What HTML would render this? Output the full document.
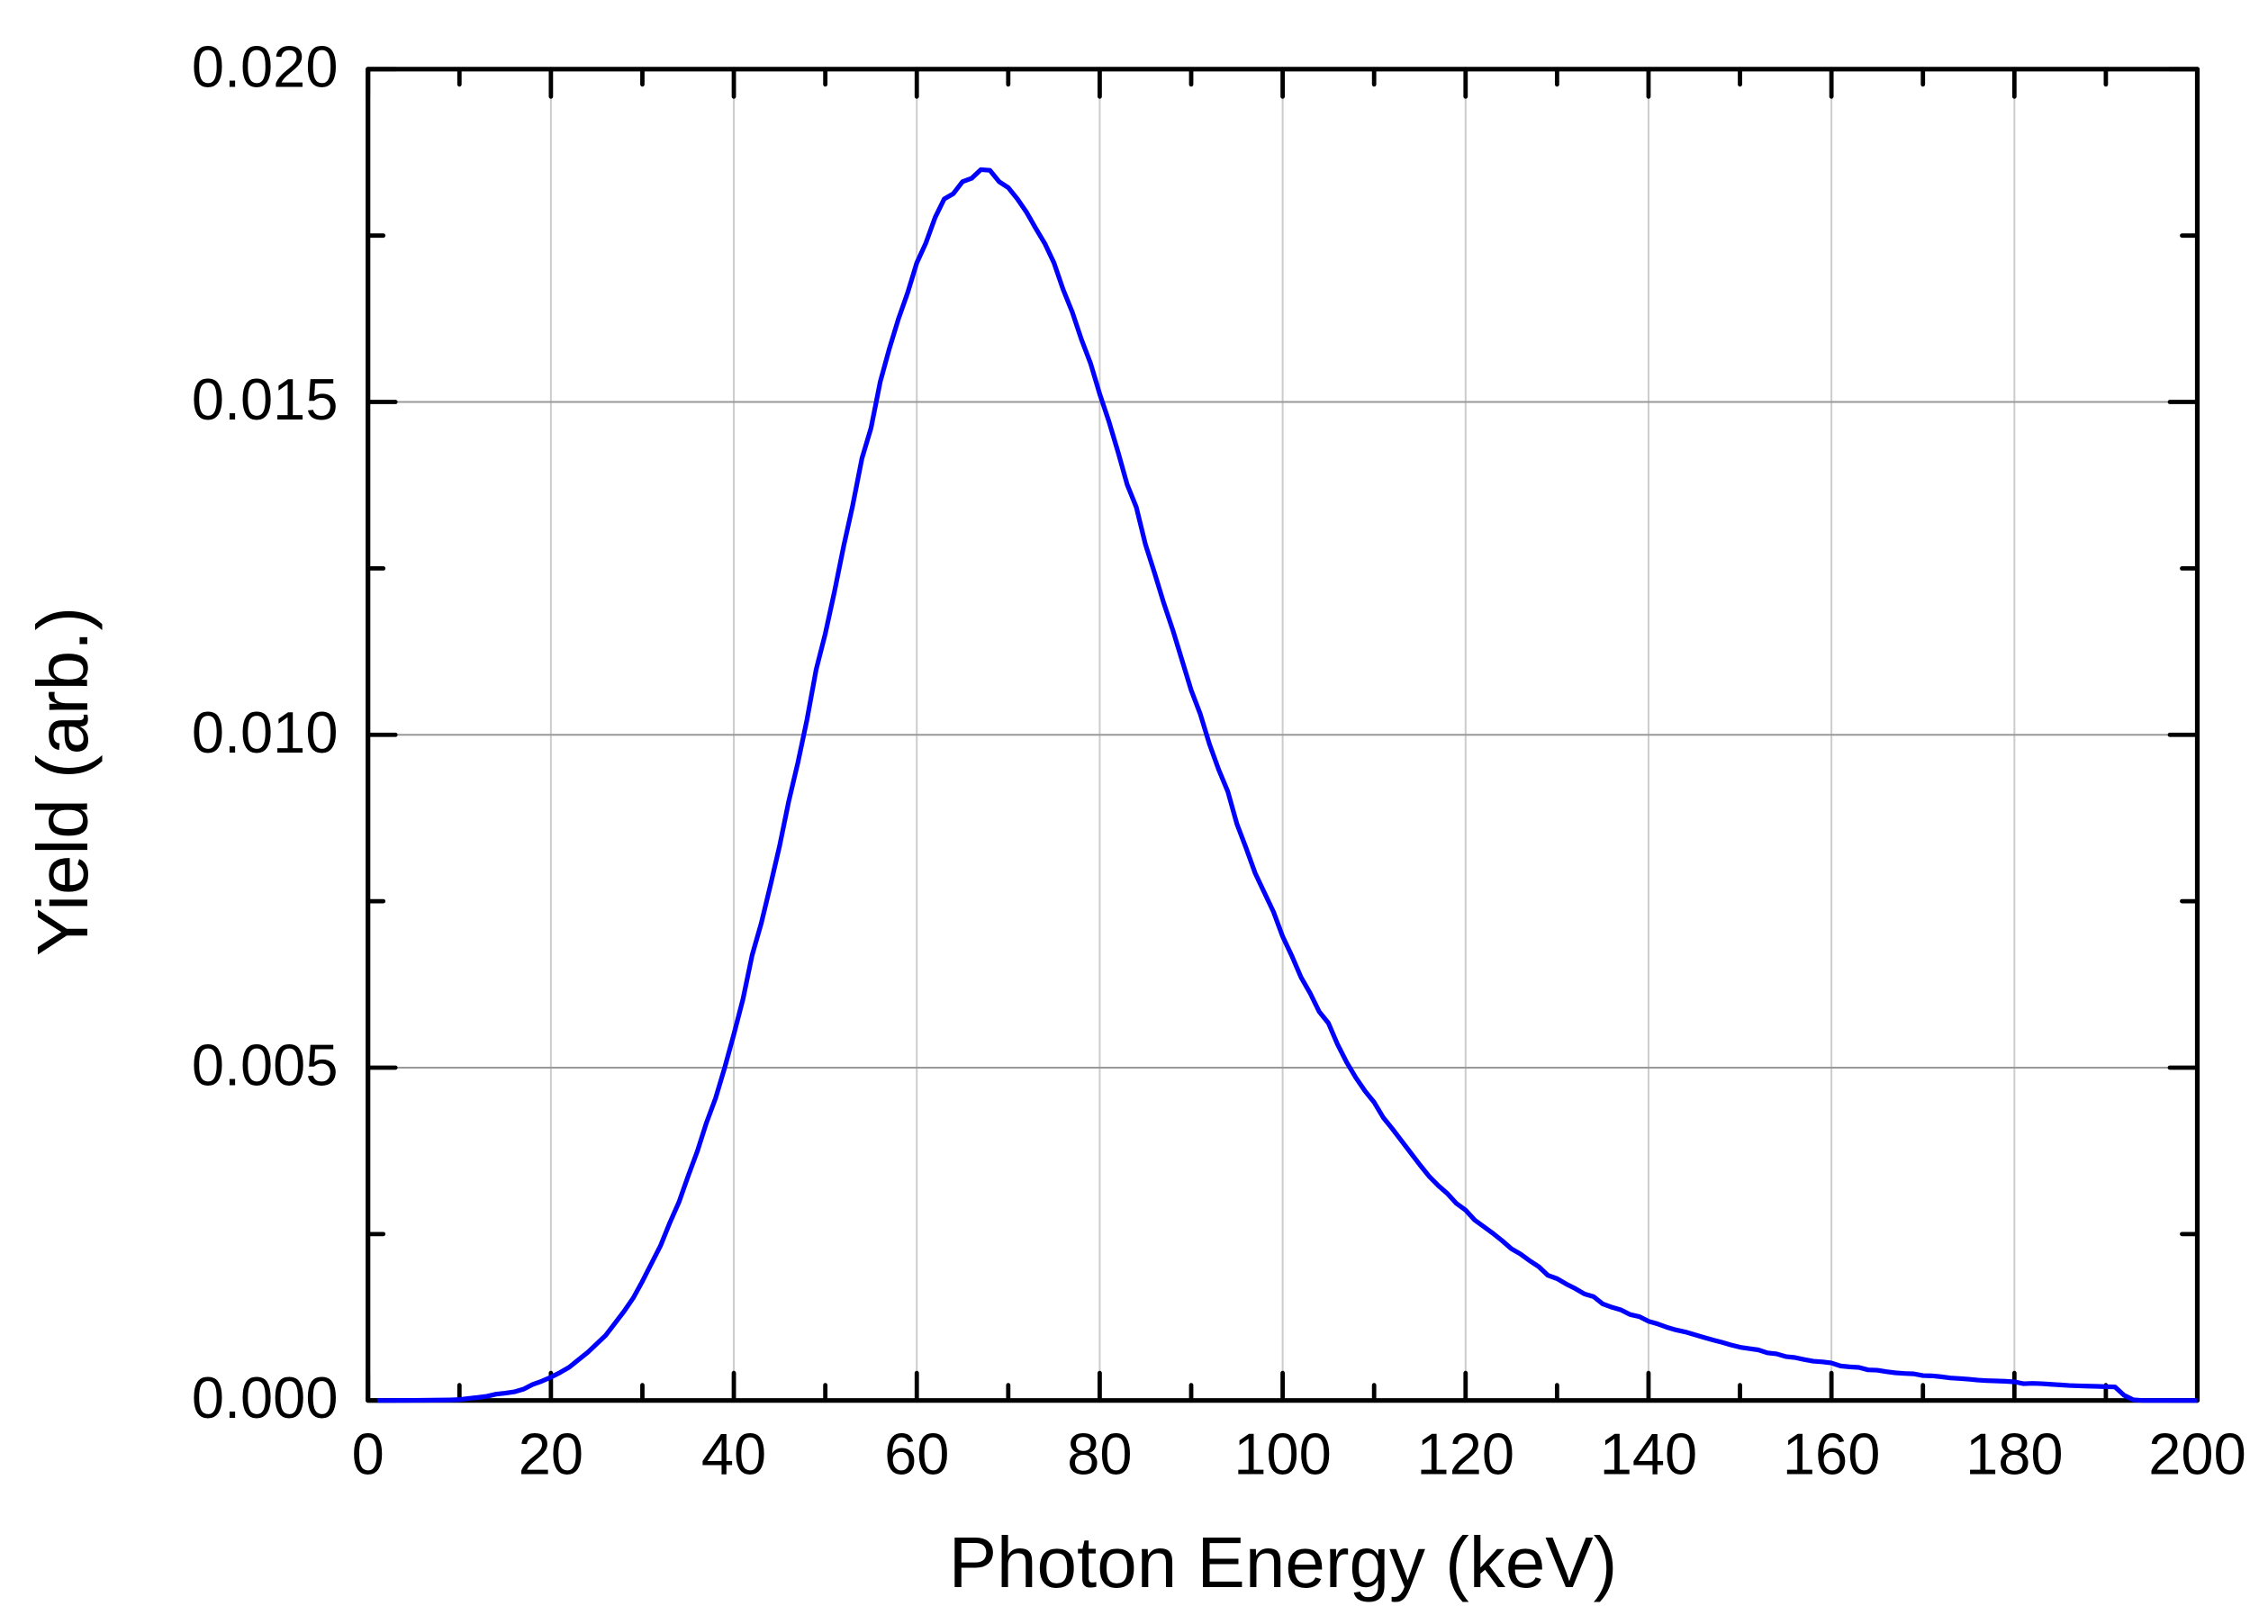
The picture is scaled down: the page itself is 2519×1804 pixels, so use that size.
<!DOCTYPE html>
<html lang="en">
<head>
<meta charset="utf-8">
<title>Photon Energy Spectrum</title>
<style>
  html, body { margin: 0; padding: 0; background: #fff; }
  svg { display: block; }
  text { font-family: "Liberation Sans", Arial, sans-serif; fill: #000; }
</style>
</head>
<body>
<svg id="chart" xmlns="http://www.w3.org/2000/svg" width="2519" height="1804" viewBox="0 0 2519 1804">
  <rect x="0" y="0" width="2519" height="1804" fill="#ffffff"></rect>
  <g id="grid"></g>
  <g id="ticks"></g>
  <rect id="frame" fill="none" stroke="#000" stroke-width="5.2" stroke-linejoin="round"></rect>
  <g id="tick-labels"></g>
  <polyline id="series" fill="none" stroke="#0000ff" stroke-width="5.2" stroke-linejoin="round"></polyline>
  <text x="1425" y="1763" font-size="80" text-anchor="middle">Photon Energy (keV)</text>
  <text transform="translate(97 868) rotate(-90)" font-size="80" text-anchor="middle">Yield (arb.)</text>
</svg>
<script>
// Chart data
const energies = [
  1,2,3,4,5,6,7,8,9,10,
  11,12,13,14,15,16,17,18,19,20,
  21,22,23,24,25,26,27,28,29,30,
  31,32,33,34,35,36,37,38,39,40,
  41,42,43,44,45,46,47,48,49,50,
  51,52,53,54,55,56,57,58,59,60,
  61,62,63,64,65,66,67,68,69,70,
  71,72,73,74,75,76,77,78,79,80,
  81,82,83,84,85,86,87,88,89,90,
  91,92,93,94,95,96,97,98,99,100,
  101,102,103,104,105,106,107,108,109,110,
  111,112,113,114,115,116,117,118,119,120,
  121,122,123,124,125,126,127,128,129,130,
  131,132,133,134,135,136,137,138,139,140,
  141,142,143,144,145,146,147,148,149,150,
  151,152,153,154,155,156,157,158,159,160,
  161,162,163,164,165,166,167,168,169,170,
  171,172,173,174,175,176,177,178,179,180,
  181,182,183,184,185,186,187,188,189,190,
  191,192,193,194,195,196,197,198,199,200
];
// Yield in units of 0.001 (arb.)
const yieldMilli = [
  0,0,0,.001,.002,.003,.004,.006,.008,.013,
  .03,.045,.063,.095,.11,.13,.17,.24,.29,.35,
  .42,.5,.61,.72,.85,.98,1.16,1.34,1.54,1.79,
  2.06,2.33,2.67,2.98,3.37,3.74,4.17,4.54,5,5.5,
  6.03,6.69,7.17,7.74,8.33,9,9.58,10.23,10.98,11.52,
  12.15,12.83,13.45,14.15,14.61,15.3,15.8,16.25,16.64,17.09,
  17.39,17.77,18.05,18.13,18.31,18.36,18.49,18.48,18.31,18.22,
  18.05,17.85,17.61,17.38,17.09,16.69,16.35,15.94,15.58,15.12,
  14.71,14.25,13.76,13.42,12.86,12.43,11.98,11.57,11.12,10.67,
  10.31,9.86,9.48,9.15,8.66,8.3,7.92,7.63,7.34,6.97,
  6.68,6.36,6.12,5.84,5.67,5.35,5.08,4.85,4.65,4.48,
  4.25,4.08,3.9,3.72,3.54,3.37,3.23,3.11,2.96,2.86,
  2.71,2.61,2.51,2.4,2.28,2.2,2.1,2.01,1.88,1.83,
  1.75,1.68,1.6,1.56,1.45,1.4,1.36,1.29,1.26,1.19,
  1.15,1.1,1.06,1.03,.99,.95,.91,.875,.835,.8,
  .78,.76,.715,.7,.66,.645,.615,.59,.58,.563,
  .518,.505,.496,.46,.455,.433,.415,.406,.4,.374,
  .37,.356,.338,.33,.32,.306,.298,.293,.288,.28,
  .252,.257,.252,.243,.234,.225,.22,.216,.212,.207,
  .203,.077,.01,0,0,0,0,0,0,0
];
const xMajorTicks = [0,20,40,60,80,100,120,140,160,180,200];
const xMinorTicks = [10,30,50,70,90,110,130,150,170,190];
const xGridValues = [20,40,60,80,100,120,140,160,180];
const yMajorTicks = [0,5,10,15,20];
const yMinorTicks = [2.5,7.5,12.5,17.5];
const yGridValues = [5,10,15];
const yTickLabels = ["0.000","0.005","0.010","0.015","0.020"];

const NS = 'http://www.w3.org/2000/svg';
const PLOT_LEFT = 408.7, PLOT_RIGHT = 2440.5, PLOT_TOP = 76.8, PLOT_BOTTOM = 1555.7;
const X_MAX = 200, Y_MAX = 20;
const MAJOR_LEN = 30.5, MINOR_LEN = 17;
function xScale(v) { return PLOT_LEFT + (PLOT_RIGHT - PLOT_LEFT) * v / X_MAX; }
function yScale(v) { return PLOT_BOTTOM - (PLOT_BOTTOM - PLOT_TOP) * v / Y_MAX; }
function makeLine(parent, x1, y1, x2, y2, stroke, width, cap) {
  const el = document.createElementNS(NS, 'line');
  el.setAttribute('x1', x1);
  el.setAttribute('y1', y1);
  el.setAttribute('x2', x2);
  el.setAttribute('y2', y2);
  el.setAttribute('stroke', stroke);
  el.setAttribute('stroke-width', width);
  el.setAttribute('stroke-linecap', cap);
  parent.appendChild(el);
  return el;
}
function makeText(parent, x, y, anchor, content) {
  const el = document.createElementNS(NS, 'text');
  el.setAttribute('x', x);
  el.setAttribute('y', y);
  el.setAttribute('font-size', '65');
  el.setAttribute('text-anchor', anchor);
  el.textContent = content;
  parent.appendChild(el);
  return el;
}

const gridG = document.getElementById('grid');
const ticksG = document.getElementById('ticks');
const labelsG = document.getElementById('tick-labels');

xGridValues.forEach(function (v) {
  const el = makeLine(gridG, xScale(v), PLOT_TOP, xScale(v), PLOT_BOTTOM, '#cccccc', 2, 'butt');
  
  
});
yGridValues.forEach(function (v) {
  const el = makeLine(gridG, PLOT_LEFT, yScale(v), PLOT_RIGHT, yScale(v), '#999999', 2, 'butt');
  
  
});

function drawXTicks(values, len) {
  values.forEach(function (v) {
    const x = xScale(v);
    const bottom = makeLine(ticksG, x, PLOT_BOTTOM, x, PLOT_BOTTOM - len, '#000', 4.8, 'round');
    
    
    const top = makeLine(ticksG, x, PLOT_TOP, x, PLOT_TOP + len, '#000', 4.8, 'round');
    
    
  });
}
function drawYTicks(values, len) {
  values.forEach(function (v) {
    const y = yScale(v);
    const left = makeLine(ticksG, PLOT_LEFT, y, PLOT_LEFT + len, y, '#000', 4.8, 'round');
    
    
    const right = makeLine(ticksG, PLOT_RIGHT, y, PLOT_RIGHT - len, y, '#000', 4.8, 'round');
    
    
  });
}
drawXTicks(xMajorTicks, MAJOR_LEN);
drawXTicks(xMinorTicks, MINOR_LEN);
drawYTicks(yMajorTicks, MAJOR_LEN);
drawYTicks(yMinorTicks, MINOR_LEN);

const frame = document.getElementById('frame');
frame.setAttribute('x', PLOT_LEFT);
frame.setAttribute('y', PLOT_TOP);
frame.setAttribute('width', PLOT_RIGHT - PLOT_LEFT);
frame.setAttribute('height', PLOT_BOTTOM - PLOT_TOP);

xMajorTicks.forEach(function (v) {
  const el = makeText(labelsG, xScale(v), 1637.5, 'middle', String(v));
  
  
});
yMajorTicks.forEach(function (v, i) {
  const el = makeText(labelsG, 375.5, yScale(v) + 19.5, 'end', yTickLabels[i]);
  
  
});

document.getElementById('series').setAttribute('points', energies.map(function (e, i) {
  return xScale(e).toFixed(2) + ',' + yScale(yieldMilli[i]).toFixed(2);
}).join(' '));
</script>
</body>
</html>
